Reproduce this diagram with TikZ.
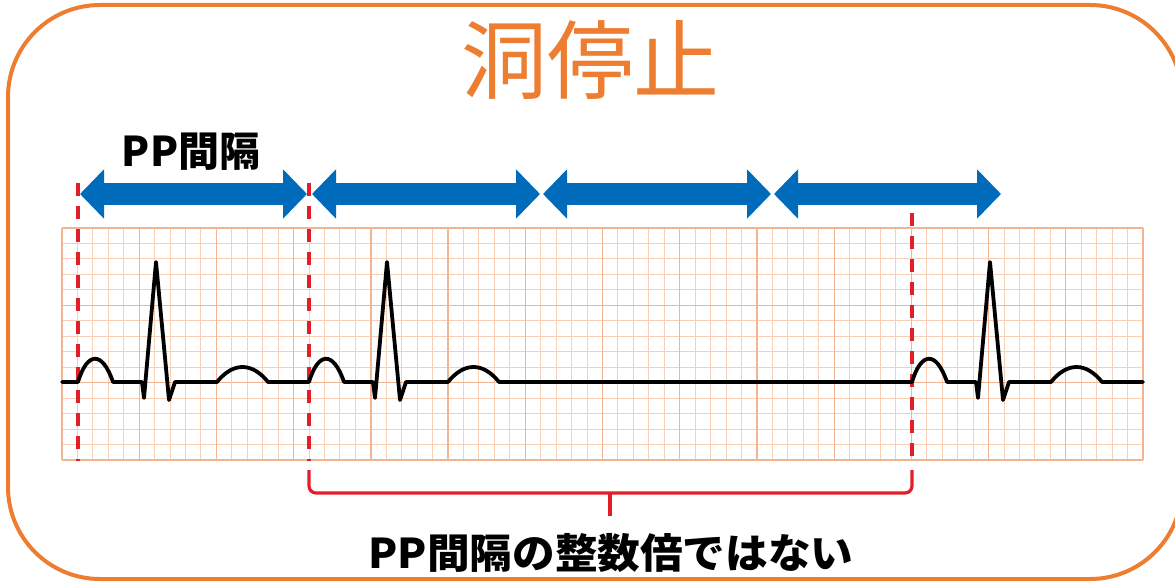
\documentclass[tikz,border=0pt]{standalone}
\usepackage{fontspec}
\newfontfamily\jp{Noto Sans CJK JP}
\usetikzlibrary{arrows.meta}
\definecolor{boxorange}{RGB}{237,125,49}
\definecolor{arrowblue}{RGB}{0,106,187}
\definecolor{dashred}{RGB}{226,30,40}
\definecolor{gridminor}{RGB}{248,206,180}
\definecolor{gridmajor}{RGB}{243,180,145}
\begin{document}
\begin{tikzpicture}[x=1pt,y=-1pt,
  frame/.style={draw=boxorange,line width=4pt,rounded corners=92pt},
  minorline/.style={draw=gridminor,line width=1pt},
  majorline/.style={draw=gridmajor,line width=1.3pt},
  ecg/.style={draw=black,line width=3.8pt,line join=round,line cap=round},
  reddash/.style={draw=dashred,line width=4.2pt,dash pattern=on 13pt off 10pt},
  bracketline/.style={draw=dashred,line width=3.2pt,rounded corners=7pt},
  pparrow/.style={draw=arrowblue,line width=22pt,
    {Triangle[length=24pt,width=48pt]}-{Triangle[length=24pt,width=48pt]}},
  beat/.style={insert path={
    -- (#1,382) .. controls (#1+9,352) and (#1+24,350) .. (#1+35,382)
    -- (#1+64,382) -- (#1+66,398) -- (#1+78,262) -- (#1+91,400) -- (#1+97,382)
    -- (#1+139,382) .. controls (#1+155,362) and (#1+174,362) .. (#1+190,382)}},
  title/.style={text=boxorange,font=\jp\fontsize{86}{92}\selectfont,inner sep=0pt},
  label/.style={text=black,font=\jp\bfseries\fontsize{41}{45}\selectfont,inner sep=0pt}
]
\useasboundingbox (0,0) rectangle (1175,583);
\begin{scope}
\clip (0,0) rectangle (1175,583);
\draw[frame] (8,5) rectangle (1182,579);
\end{scope}

% ECG grid
\foreach \i in {0,...,70}{
  \pgfmathsetmacro{\gx}{62+\i*15.443}
  \pgfmathtruncatemacro{\m}{mod(\i,5)}
  \ifnum\m=0\relax\else
    \draw[minorline] (\gx,228) -- (\gx,460);
  \fi
}
\foreach \j in {0,...,15}{
  \pgfmathsetmacro{\gy}{228+\j*15.4667}
  \pgfmathtruncatemacro{\m}{mod(\j,5)}
  \ifnum\m=0\relax\else
    \draw[minorline] (62,\gy) -- (1143,\gy);
  \fi
}
\foreach \i in {0,5,...,70}{
  \pgfmathsetmacro{\gx}{62+\i*15.443}
  \draw[majorline] (\gx,228) -- (\gx,460);
}
\foreach \j in {0,5,10,15}{
  \pgfmathsetmacro{\gy}{228+\j*15.4667}
  \draw[majorline] (62,\gy) -- (1143,\gy);
}

% title and labels
\node[title] (ttl) at (590,60) {洞停止};
\node[label] (pp) at (191,152) {PP間隔};
\node[label, xscale=1.04] (note) at (611,553) {PP間隔の整数倍ではない};

% red dashed markers
\coordinate (d1t) at (78,183);  \coordinate (d1b) at (78,461);
\coordinate (d2t) at (309,183); \coordinate (d2b) at (309,461);
\coordinate (d3t) at (912,213); \coordinate (d3b) at (912,461);
\draw[reddash] (d1t) -- (d1b);
\draw[reddash] (d2t) -- (d2b);
\draw[reddash] (d3t) -- (d3b);

% ECG trace
\draw[ecg] (62,382) [beat=78] [beat=309] [beat=912] -- (1143,382);

% blue PP interval arrows
\coordinate (a1l) at (80,194);  \coordinate (a1r) at (307,194);
\coordinate (a2l) at (312,194); \coordinate (a2r) at (540,194);
\coordinate (a3l) at (543,194); \coordinate (a3r) at (771,194);
\coordinate (a4l) at (774,194); \coordinate (a4r) at (1001,194);
\draw[pparrow] (a1l) -- (a1r);
\draw[pparrow] (a2l) -- (a2r);
\draw[pparrow] (a3l) -- (a3r);
\draw[pparrow] (a4l) -- (a4r);

% bracket
\coordinate (bl) at (309,470);
\coordinate (br) at (912,470);
\coordinate (bmid) at (610,493);
\coordinate (btick) at (610,516);
\draw[bracketline] (bl) |- (bmid) -| (br);
\draw[bracketline] (bmid) -- (btick);
\end{tikzpicture}
\end{document}
